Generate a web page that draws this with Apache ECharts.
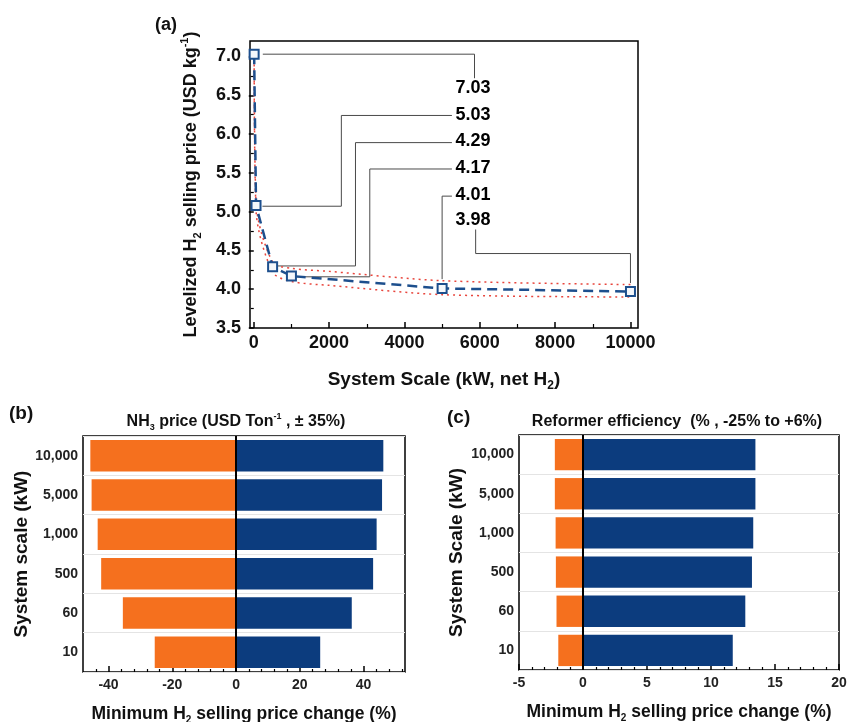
<!DOCTYPE html>
<html>
<head>
<meta charset="utf-8">
<script src="https://cdn.jsdelivr.net/npm/echarts@6/dist/echarts.min.js"></script>
<style>
  html, body { margin: 0; padding: 0; background: #fff; }
  #main { width: 848px; height: 722px; }
</style>
</head>
<body>
<div id="main"></div>
<script>
// ---- panel (a) data ----
var scaleKW = [10, 60, 500, 1000, 5000, 10000];
var lcohPrice = [7.03, 5.08, 4.29, 4.17, 4.01, 3.97];
var priceLabels = ['7.03', '5.03', '4.29', '4.17', '4.01', '3.98'];
var labelX = 5820;
var labelY = [6.59, 6.25, 5.91, 5.56, 5.22, 4.89];

var bandX = [10, 60, 500, 1000, 2000, 5000, 10000];
var bandUpper = [7.05, 5.12, 4.35, 4.27, 4.23, 4.11, 4.06];
var bandLower = [7.0, 5.02, 4.22, 4.10, 4.05, 3.93, 3.90];

// leader lines from each point to its label
var leaders = [
  [[240, 7.03], [5860, 7.03], [5860, 6.72]],
  [[5260, 6.24], [2325, 6.24], [2325, 5.07], [230, 5.07]],
  [[5260, 5.89], [2700, 5.89], [2700, 4.30], [640, 4.30]],
  [[5260, 5.55], [3080, 5.55], [3080, 4.16], [1140, 4.16]],
  [[5260, 5.20], [5000, 5.20], [5000, 4.13]],
  [[5890, 4.77], [5890, 4.46], [10000, 4.46], [10000, 4.08]]
];

var aXTicks = [0, 2000, 4000, 6000, 8000, 10000];
var aXMinor = [1000, 3000, 5000, 7000, 9000];
var aYTicks = [3.5, 4.0, 4.5, 5.0, 5.5, 6.0, 6.5, 7.0];
var aYMinor = [3.75, 4.25, 4.75, 5.25, 5.75, 6.25, 6.75];

// ---- panels (b) and (c) data ----
var scaleCats = ['10', '60', '500', '1,000', '5,000', '10,000'];
var nh3Low = [-25.5, -35.5, -42.3, -43.4, -45.3, -45.7];
var nh3High = [26.4, 36.3, 43.0, 44.1, 45.8, 46.2];
var refLow = [-1.93, -2.07, -2.12, -2.14, -2.2, -2.2];
var refHigh = [11.7, 12.68, 13.2, 13.3, 13.47, 13.47];

var bTicks = [-40, -20, 0, 20, 40];
var bMinor = [-44, -36, -32, -28, -24, -16, -12, -8, -4, 4, 8, 12, 16, 24, 28, 32, 36, 44, 48, 52];

var ORANGE = '#f5701e';
var NAVY = '#0c3c7e';
var LINEBLUE = '#1d4f8d';
var FONT = '"Liberation Sans", Arial, sans-serif';

var subRich = {
  sub: { fontSize: 10, fontWeight: 'bold', fontFamily: FONT, verticalAlign: 'bottom', lineHeight: 10 },
  sup: { fontSize: 10, fontWeight: 'bold', fontFamily: FONT, verticalAlign: 'top', lineHeight: 10 }
};

function minorAxis(grid, min, max, values, pos, inside, len) {
  return {
    type: 'value', gridIndex: grid, min: min, max: max, position: pos,
    axisLine: { show: false }, axisLabel: { show: false }, splitLine: { show: false },
    axisTick: { show: true, inside: inside, length: len, customValues: values,
      lineStyle: { color: '#000', width: 1.2 } }
  };
}

var myChart = echarts.init(document.getElementById('main'));

var series = [];

// panel (a): leader lines
leaders.forEach(function (pts) {
  series.push({
    type: 'line', xAxisIndex: 0, yAxisIndex: 0, data: pts, symbol: 'none', silent: true,
    lineStyle: { color: '#4a4a4a', width: 1 }, z: 1
  });
});

series.push({
  type: 'line', xAxisIndex: 0, yAxisIndex: 0, symbol: 'none', smooth: 0.3,
  data: bandX.map(function (x, i) { return [x, bandUpper[i]]; }),
  lineStyle: { color: '#e8453c', type: [2, 4], width: 1.5 }, z: 2
});
series.push({
  type: 'line', xAxisIndex: 0, yAxisIndex: 0, symbol: 'none', smooth: 0.3,
  data: bandX.map(function (x, i) { return [x, bandLower[i]]; }),
  lineStyle: { color: '#e8453c', type: [2, 4], width: 1.5 }, z: 2
});
series.push({
  type: 'line', xAxisIndex: 0, yAxisIndex: 0,
  data: scaleKW.map(function (x, i) { return [x, lcohPrice[i]]; }),
  symbol: 'rect', symbolSize: 9,
  itemStyle: { color: '#f4f7fb', borderColor: LINEBLUE, borderWidth: 2 },
  lineStyle: { color: LINEBLUE, type: [10, 6], width: 2.5 }, z: 3
});
series.push({
  type: 'scatter', xAxisIndex: 0, yAxisIndex: 0, symbolSize: 0, silent: true,
  itemStyle: { opacity: 1 },
  data: priceLabels.map(function (t, i) { return [labelX, labelY[i], t]; }),
  label: {
    show: true, position: 'inside', formatter: function (p) { return p.value[2]; },
    fontSize: 18, fontWeight: 'bold', fontFamily: FONT, color: '#000', textBorderWidth: 0
  }
});

// panel (b)
series.push({
  type: 'bar', xAxisIndex: 2, yAxisIndex: 2, data: nh3Low, barWidth: '80%', barGap: '-100%',
  itemStyle: { color: ORANGE }
});
series.push({
  type: 'bar', xAxisIndex: 2, yAxisIndex: 2, data: nh3High, barWidth: '80%', barGap: '-100%',
  itemStyle: { color: NAVY },
  markLine: { symbol: 'none', silent: true, label: { show: false },
    lineStyle: { color: '#000', type: 'solid', width: 2 }, data: [{ xAxis: 0 }] }
});

// panel (c)
series.push({
  type: 'bar', xAxisIndex: 4, yAxisIndex: 3, data: refLow, barWidth: '80%', barGap: '-100%',
  itemStyle: { color: ORANGE }
});
series.push({
  type: 'bar', xAxisIndex: 4, yAxisIndex: 3, data: refHigh, barWidth: '80%', barGap: '-100%',
  itemStyle: { color: NAVY },
  markLine: { symbol: 'none', silent: true, label: { show: false },
    lineStyle: { color: '#000', type: 'solid', width: 2 }, data: [{ xAxis: 0 }] }
});

var gridBase = { show: true, borderColor: '#000', borderWidth: 1.5, backgroundColor: 'transparent', outerBoundsMode: 'none', containLabel: false };

var catAxis = function (grid, nameGap) {
  return {
    type: 'category', gridIndex: grid, data: scaleCats,
    axisLine: { show: false }, axisTick: { show: false },
    splitLine: { show: true, lineStyle: { color: '#e4e4e4', width: 1 } },
    axisLabel: { fontSize: 14, fontWeight: 'bold', fontFamily: FONT, color: '#222', margin: 5 },
    name: 'System ' + (grid === 1 ? 'scale' : 'Scale') + ' (kW)', nameLocation: 'middle', nameGap: nameGap,
    nameTextStyle: { fontSize: 19, fontWeight: 'bold', fontFamily: FONT, color: '#111' }
  };
};

var plainNum = function (v) { return String(v); };

var option = {
  backgroundColor: '#fff',
  animation: false,
  grid: [
    Object.assign({ left: 250, top: 41, width: 388, height: 287 }, gridBase),
    Object.assign({ left: 83, top: 436, width: 322, height: 236 }, gridBase),
    Object.assign({ left: 519, top: 435, width: 320, height: 235 }, gridBase)
  ],
  xAxis: [
    {
      type: 'value', gridIndex: 0, min: -100, max: 10200,
      axisLine: { show: false }, splitLine: { show: false },
      axisTick: { show: true, inside: true, length: 6, customValues: aXTicks, lineStyle: { color: '#000', width: 1.5 } },
      axisLabel: { customValues: aXTicks, formatter: plainNum, fontSize: 18, fontWeight: 'bold', fontFamily: FONT, color: '#111', margin: 6 },
      name: 'System Scale (kW, net H{sub|2})', nameLocation: 'middle', nameGap: 40,
      nameTextStyle: { fontSize: 19, fontWeight: 'bold', fontFamily: FONT, color: '#111', lineHeight: 24,
        rich: { sub: { fontSize: 12, fontWeight: 'bold', fontFamily: FONT, verticalAlign: 'bottom', lineHeight: 12 } } }
    },
    minorAxis(0, -100, 10200, aXMinor, 'bottom', true, 4),
    {
      type: 'value', gridIndex: 1, min: -48, max: 53,
      axisLine: { show: false }, splitLine: { show: false },
      axisTick: { show: true, inside: true, length: 6, customValues: bTicks, lineStyle: { color: '#000', width: 1.5 } },
      axisLabel: { customValues: bTicks, fontSize: 14, fontWeight: 'bold', fontFamily: FONT, color: '#222', margin: 6 },
      name: 'Minimum H{sub|2} selling price change (%)', nameLocation: 'middle', nameGap: 31,
      nameTextStyle: { fontSize: 17.5, fontWeight: 'bold', fontFamily: FONT, color: '#111', lineHeight: 22, rich: subRich }
    },
    minorAxis(1, -48, 53, bMinor, 'bottom', true, 3),
    {
      type: 'value', gridIndex: 2, min: -5, max: 20, interval: 5,
      axisLine: { show: false }, splitLine: { show: false },
      axisTick: { show: true, inside: true, length: 6, lineStyle: { color: '#000', width: 1.5 } },
      minorTick: { show: true, splitNumber: 5, length: 3, lineStyle: { color: '#000', width: 1.2 } },
      axisLabel: { fontSize: 14, fontWeight: 'bold', fontFamily: FONT, color: '#222', margin: 6 },
      name: 'Minimum H{sub|2} selling price change (%)', nameLocation: 'middle', nameGap: 31,
      nameTextStyle: { fontSize: 17.5, fontWeight: 'bold', fontFamily: FONT, color: '#111', lineHeight: 22, rich: subRich }
    }
  ],
  yAxis: [
    {
      type: 'value', gridIndex: 0, min: 3.5, max: 7.2,
      axisLine: { show: false }, splitLine: { show: false },
      axisTick: { show: true, inside: false, length: 5, customValues: aYTicks, lineStyle: { color: '#000', width: 1.5 } },
      axisLabel: { customValues: aYTicks, fontSize: 18, fontWeight: 'bold', fontFamily: FONT, color: '#111', margin: 9,
        formatter: function (v) { return v.toFixed(1); } },
      name: 'Levelized H{sub|2} selling price (USD kg{sup|-1})', nameLocation: 'middle', nameGap: 47,
      nameTextStyle: { fontSize: 18, fontWeight: 'bold', fontFamily: FONT, color: '#111', lineHeight: 24,
        rich: {
          sub: { fontSize: 11, fontWeight: 'bold', fontFamily: FONT, verticalAlign: 'bottom', lineHeight: 11 },
          sup: { fontSize: 11, fontWeight: 'bold', fontFamily: FONT, verticalAlign: 'top', lineHeight: 11 }
        } }
    },
    minorAxis(0, 3.5, 7.2, aYMinor, 'left', false, 3),
    catAxis(1, 47),
    catAxis(2, 53)
  ],
  graphic: [
    { type: 'text', left: 155, top: 16, style: { text: '(a)', font: 'bold 18px ' + FONT, fill: '#111' } },
    { type: 'text', left: 9, top: 404, style: { text: '(b)', font: 'bold 19px ' + FONT, fill: '#111' } },
    { type: 'text', left: 447, top: 408, style: { text: '(c)', font: 'bold 19px ' + FONT, fill: '#111' } },
    { type: 'text', x: 236, y: 422, style: {
        text: 'NH{sub|3} price (USD Ton{sup|-1} , ± 35%)', align: 'center', verticalAlign: 'middle',
        font: 'bold 16px ' + FONT, fill: '#111', lineHeight: 20,
        rich: { sub: { fontSize: 9, fontWeight: 'bold', verticalAlign: 'bottom', lineHeight: 9 },
                sup: { fontSize: 9, fontWeight: 'bold', verticalAlign: 'top', lineHeight: 9 } } } },
    { type: 'text', x: 677, y: 422, style: {
        text: 'Reformer efficiency  (% , -25% to +6%)', align: 'center', verticalAlign: 'middle',
        font: 'bold 16px ' + FONT, fill: '#111' } }
  ],
  series: series
};

myChart.setOption(option);
</script>
</body>
</html>
